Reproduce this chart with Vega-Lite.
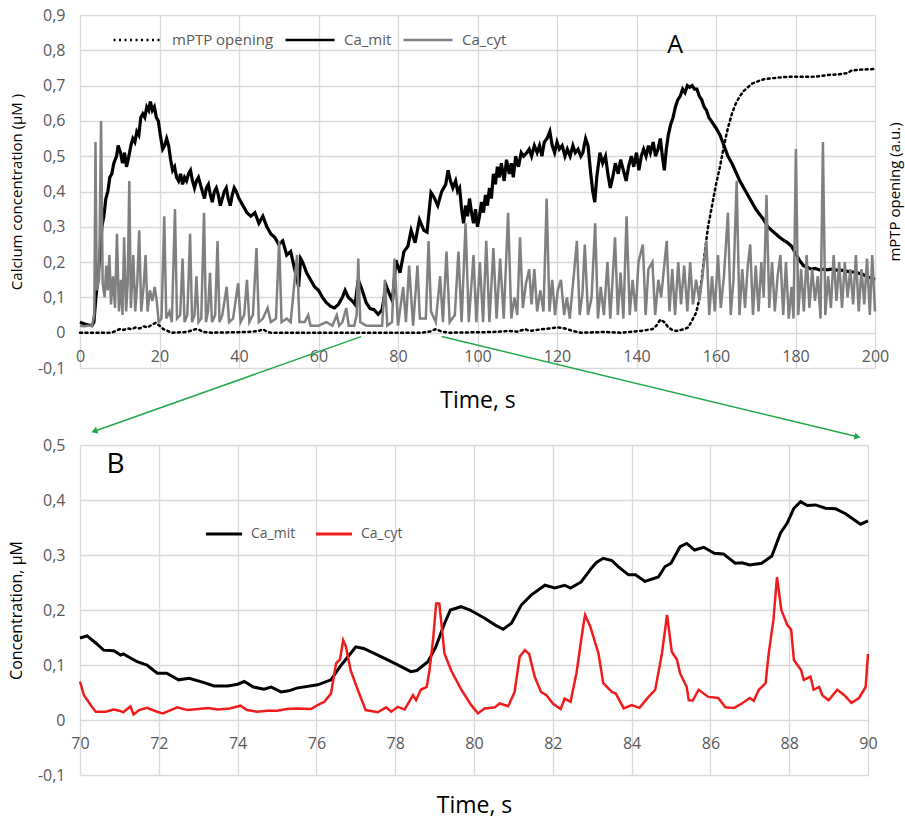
{
"$schema":"https://vega.github.io/schema/vega-lite/v6.json",
"padding":{"left":8,"top":7,"right":5,"bottom":5},
"spacing":77,
"bounds":"flush",
"datasets":{
"mptp":[{"t":0,"v":0,"s":"mPTP opening"},{"t":8,"v":0,"s":"mPTP opening"},{"t":9,"v":0.005,"s":"mPTP opening"},{"t":10,"v":0.01,"s":"mPTP opening"},{"t":11,"v":0.008,"s":"mPTP opening"},{"t":12,"v":0.012,"s":"mPTP opening"},{"t":13,"v":0.01,"s":"mPTP opening"},{"t":14,"v":0.015,"s":"mPTP opening"},{"t":15,"v":0.012,"s":"mPTP opening"},{"t":16,"v":0.018,"s":"mPTP opening"},{"t":17,"v":0.015,"s":"mPTP opening"},{"t":18,"v":0.022,"s":"mPTP opening"},{"t":19,"v":0.028,"s":"mPTP opening"},{"t":20,"v":0.02,"s":"mPTP opening"},{"t":21,"v":0.01,"s":"mPTP opening"},{"t":22,"v":0.005,"s":"mPTP opening"},{"t":23,"v":0,"s":"mPTP opening"},{"t":27,"v":0.002,"s":"mPTP opening"},{"t":29,"v":0.01,"s":"mPTP opening"},{"t":30,"v":0.008,"s":"mPTP opening"},{"t":31,"v":0.002,"s":"mPTP opening"},{"t":33,"v":0,"s":"mPTP opening"},{"t":42,"v":0.002,"s":"mPTP opening"},{"t":45,"v":0.005,"s":"mPTP opening"},{"t":46,"v":0.01,"s":"mPTP opening"},{"t":47,"v":0.003,"s":"mPTP opening"},{"t":48,"v":0,"s":"mPTP opening"},{"t":86,"v":0,"s":"mPTP opening"},{"t":88,"v":0.003,"s":"mPTP opening"},{"t":89.5,"v":0.01,"s":"mPTP opening"},{"t":91,"v":0.003,"s":"mPTP opening"},{"t":93,"v":0,"s":"mPTP opening"},{"t":104,"v":0.002,"s":"mPTP opening"},{"t":108,"v":0.005,"s":"mPTP opening"},{"t":110,"v":0.003,"s":"mPTP opening"},{"t":112,"v":0.01,"s":"mPTP opening"},{"t":113,"v":0.005,"s":"mPTP opening"},{"t":115,"v":0.008,"s":"mPTP opening"},{"t":118,"v":0.012,"s":"mPTP opening"},{"t":120,"v":0.015,"s":"mPTP opening"},{"t":122,"v":0.012,"s":"mPTP opening"},{"t":124,"v":0.005,"s":"mPTP opening"},{"t":126,"v":0,"s":"mPTP opening"},{"t":132,"v":0.002,"s":"mPTP opening"},{"t":136,"v":0,"s":"mPTP opening"},{"t":141,"v":0.005,"s":"mPTP opening"},{"t":144,"v":0.01,"s":"mPTP opening"},{"t":145,"v":0.02,"s":"mPTP opening"},{"t":146,"v":0.037,"s":"mPTP opening"},{"t":147,"v":0.03,"s":"mPTP opening"},{"t":148,"v":0.015,"s":"mPTP opening"},{"t":149,"v":0.008,"s":"mPTP opening"},{"t":150,"v":0.005,"s":"mPTP opening"},{"t":152,"v":0.01,"s":"mPTP opening"},{"t":153,"v":0.015,"s":"mPTP opening"},{"t":154,"v":0.035,"s":"mPTP opening"},{"t":155,"v":0.057,"s":"mPTP opening"},{"t":155.7,"v":0.09,"s":"mPTP opening"},{"t":156.5,"v":0.16,"s":"mPTP opening"},{"t":157.2,"v":0.23,"s":"mPTP opening"},{"t":158,"v":0.3,"s":"mPTP opening"},{"t":159,"v":0.36,"s":"mPTP opening"},{"t":160,"v":0.42,"s":"mPTP opening"},{"t":161,"v":0.47,"s":"mPTP opening"},{"t":162,"v":0.53,"s":"mPTP opening"},{"t":163,"v":0.58,"s":"mPTP opening"},{"t":164,"v":0.62,"s":"mPTP opening"},{"t":165,"v":0.65,"s":"mPTP opening"},{"t":166,"v":0.67,"s":"mPTP opening"},{"t":167,"v":0.685,"s":"mPTP opening"},{"t":168,"v":0.695,"s":"mPTP opening"},{"t":169,"v":0.705,"s":"mPTP opening"},{"t":170,"v":0.71,"s":"mPTP opening"},{"t":172,"v":0.718,"s":"mPTP opening"},{"t":175,"v":0.722,"s":"mPTP opening"},{"t":178,"v":0.725,"s":"mPTP opening"},{"t":182,"v":0.725,"s":"mPTP opening"},{"t":185,"v":0.725,"s":"mPTP opening"},{"t":188,"v":0.73,"s":"mPTP opening"},{"t":191,"v":0.732,"s":"mPTP opening"},{"t":193,"v":0.735,"s":"mPTP opening"},{"t":194,"v":0.742,"s":"mPTP opening"},{"t":196,"v":0.745,"s":"mPTP opening"},{"t":200,"v":0.747,"s":"mPTP opening"}],
"mit":[{"t":0,"v":0.03,"s":"Ca_mit"},{"t":1,"v":0.025,"s":"Ca_mit"},{"t":2,"v":0.022,"s":"Ca_mit"},{"t":3,"v":0.02,"s":"Ca_mit"},{"t":3.5,"v":0.03,"s":"Ca_mit"},{"t":4,"v":0.1,"s":"Ca_mit"},{"t":4.5,"v":0.15,"s":"Ca_mit"},{"t":5,"v":0.22,"s":"Ca_mit"},{"t":5.5,"v":0.3,"s":"Ca_mit"},{"t":6,"v":0.33,"s":"Ca_mit"},{"t":6.5,"v":0.38,"s":"Ca_mit"},{"t":7,"v":0.4,"s":"Ca_mit"},{"t":7.5,"v":0.44,"s":"Ca_mit"},{"t":8,"v":0.45,"s":"Ca_mit"},{"t":8.5,"v":0.48,"s":"Ca_mit"},{"t":9.2,"v":0.5,"s":"Ca_mit"},{"t":9.6,"v":0.53,"s":"Ca_mit"},{"t":10.2,"v":0.51,"s":"Ca_mit"},{"t":10.7,"v":0.48,"s":"Ca_mit"},{"t":11.2,"v":0.51,"s":"Ca_mit"},{"t":11.7,"v":0.47,"s":"Ca_mit"},{"t":12.3,"v":0.5,"s":"Ca_mit"},{"t":12.8,"v":0.53,"s":"Ca_mit"},{"t":13.3,"v":0.55,"s":"Ca_mit"},{"t":13.8,"v":0.54,"s":"Ca_mit"},{"t":14.3,"v":0.57,"s":"Ca_mit"},{"t":14.8,"v":0.56,"s":"Ca_mit"},{"t":15.3,"v":0.61,"s":"Ca_mit"},{"t":15.8,"v":0.62,"s":"Ca_mit"},{"t":16.3,"v":0.61,"s":"Ca_mit"},{"t":16.8,"v":0.64,"s":"Ca_mit"},{"t":17.3,"v":0.63,"s":"Ca_mit"},{"t":17.7,"v":0.655,"s":"Ca_mit"},{"t":18.2,"v":0.63,"s":"Ca_mit"},{"t":18.7,"v":0.64,"s":"Ca_mit"},{"t":19.2,"v":0.61,"s":"Ca_mit"},{"t":19.7,"v":0.6,"s":"Ca_mit"},{"t":20.2,"v":0.56,"s":"Ca_mit"},{"t":20.8,"v":0.52,"s":"Ca_mit"},{"t":21.3,"v":0.53,"s":"Ca_mit"},{"t":21.8,"v":0.55,"s":"Ca_mit"},{"t":22.3,"v":0.53,"s":"Ca_mit"},{"t":22.8,"v":0.49,"s":"Ca_mit"},{"t":23.3,"v":0.46,"s":"Ca_mit"},{"t":23.8,"v":0.47,"s":"Ca_mit"},{"t":24.3,"v":0.44,"s":"Ca_mit"},{"t":24.8,"v":0.43,"s":"Ca_mit"},{"t":25.3,"v":0.45,"s":"Ca_mit"},{"t":25.8,"v":0.42,"s":"Ca_mit"},{"t":26.3,"v":0.44,"s":"Ca_mit"},{"t":26.8,"v":0.43,"s":"Ca_mit"},{"t":27.3,"v":0.45,"s":"Ca_mit"},{"t":27.8,"v":0.46,"s":"Ca_mit"},{"t":28.3,"v":0.43,"s":"Ca_mit"},{"t":28.8,"v":0.41,"s":"Ca_mit"},{"t":29.3,"v":0.43,"s":"Ca_mit"},{"t":29.8,"v":0.44,"s":"Ca_mit"},{"t":30.3,"v":0.42,"s":"Ca_mit"},{"t":30.8,"v":0.4,"s":"Ca_mit"},{"t":31.3,"v":0.38,"s":"Ca_mit"},{"t":31.8,"v":0.41,"s":"Ca_mit"},{"t":32.3,"v":0.42,"s":"Ca_mit"},{"t":32.8,"v":0.39,"s":"Ca_mit"},{"t":33.3,"v":0.37,"s":"Ca_mit"},{"t":33.8,"v":0.4,"s":"Ca_mit"},{"t":34.3,"v":0.41,"s":"Ca_mit"},{"t":34.8,"v":0.39,"s":"Ca_mit"},{"t":35.3,"v":0.36,"s":"Ca_mit"},{"t":35.8,"v":0.38,"s":"Ca_mit"},{"t":36.3,"v":0.4,"s":"Ca_mit"},{"t":36.8,"v":0.41,"s":"Ca_mit"},{"t":37.3,"v":0.38,"s":"Ca_mit"},{"t":37.8,"v":0.36,"s":"Ca_mit"},{"t":38.3,"v":0.39,"s":"Ca_mit"},{"t":38.8,"v":0.41,"s":"Ca_mit"},{"t":39.3,"v":0.4,"s":"Ca_mit"},{"t":40,"v":0.38,"s":"Ca_mit"},{"t":41,"v":0.36,"s":"Ca_mit"},{"t":42,"v":0.34,"s":"Ca_mit"},{"t":43,"v":0.33,"s":"Ca_mit"},{"t":44,"v":0.34,"s":"Ca_mit"},{"t":45,"v":0.31,"s":"Ca_mit"},{"t":46,"v":0.33,"s":"Ca_mit"},{"t":47,"v":0.3,"s":"Ca_mit"},{"t":48,"v":0.28,"s":"Ca_mit"},{"t":49,"v":0.27,"s":"Ca_mit"},{"t":50,"v":0.25,"s":"Ca_mit"},{"t":51,"v":0.26,"s":"Ca_mit"},{"t":52,"v":0.22,"s":"Ca_mit"},{"t":53,"v":0.23,"s":"Ca_mit"},{"t":54,"v":0.18,"s":"Ca_mit"},{"t":55,"v":0.13,"s":"Ca_mit"},{"t":55.5,"v":0.21,"s":"Ca_mit"},{"t":56,"v":0.2,"s":"Ca_mit"},{"t":57,"v":0.17,"s":"Ca_mit"},{"t":58,"v":0.15,"s":"Ca_mit"},{"t":59,"v":0.13,"s":"Ca_mit"},{"t":60,"v":0.12,"s":"Ca_mit"},{"t":61,"v":0.1,"s":"Ca_mit"},{"t":62,"v":0.085,"s":"Ca_mit"},{"t":63,"v":0.075,"s":"Ca_mit"},{"t":64,"v":0.07,"s":"Ca_mit"},{"t":65,"v":0.08,"s":"Ca_mit"},{"t":66,"v":0.1,"s":"Ca_mit"},{"t":66.7,"v":0.12,"s":"Ca_mit"},{"t":67.5,"v":0.1,"s":"Ca_mit"},{"t":68.5,"v":0.09,"s":"Ca_mit"},{"t":69.2,"v":0.08,"s":"Ca_mit"},{"t":70,"v":0.15,"s":"Ca_mit"},{"t":71,"v":0.12,"s":"Ca_mit"},{"t":72,"v":0.085,"s":"Ca_mit"},{"t":73,"v":0.068,"s":"Ca_mit"},{"t":74,"v":0.065,"s":"Ca_mit"},{"t":75,"v":0.052,"s":"Ca_mit"},{"t":76,"v":0.065,"s":"Ca_mit"},{"t":77,"v":0.134,"s":"Ca_mit"},{"t":78,"v":0.105,"s":"Ca_mit"},{"t":78.6,"v":0.09,"s":"Ca_mit"},{"t":79.5,"v":0.205,"s":"Ca_mit"},{"t":80.5,"v":0.17,"s":"Ca_mit"},{"t":81.5,"v":0.23,"s":"Ca_mit"},{"t":82.5,"v":0.245,"s":"Ca_mit"},{"t":83.3,"v":0.29,"s":"Ca_mit"},{"t":84.3,"v":0.255,"s":"Ca_mit"},{"t":85.4,"v":0.32,"s":"Ca_mit"},{"t":86.5,"v":0.29,"s":"Ca_mit"},{"t":87.3,"v":0.285,"s":"Ca_mit"},{"t":88.3,"v":0.397,"s":"Ca_mit"},{"t":89,"v":0.385,"s":"Ca_mit"},{"t":90,"v":0.36,"s":"Ca_mit"},{"t":91,"v":0.4,"s":"Ca_mit"},{"t":92,"v":0.42,"s":"Ca_mit"},{"t":92.6,"v":0.46,"s":"Ca_mit"},{"t":93.2,"v":0.43,"s":"Ca_mit"},{"t":93.8,"v":0.41,"s":"Ca_mit"},{"t":94.5,"v":0.43,"s":"Ca_mit"},{"t":95,"v":0.4,"s":"Ca_mit"},{"t":95.5,"v":0.41,"s":"Ca_mit"},{"t":96,"v":0.35,"s":"Ca_mit"},{"t":96.5,"v":0.31,"s":"Ca_mit"},{"t":97,"v":0.36,"s":"Ca_mit"},{"t":97.5,"v":0.33,"s":"Ca_mit"},{"t":98,"v":0.38,"s":"Ca_mit"},{"t":98.5,"v":0.34,"s":"Ca_mit"},{"t":99,"v":0.31,"s":"Ca_mit"},{"t":99.5,"v":0.35,"s":"Ca_mit"},{"t":100,"v":0.3,"s":"Ca_mit"},{"t":100.5,"v":0.33,"s":"Ca_mit"},{"t":101,"v":0.37,"s":"Ca_mit"},{"t":101.5,"v":0.34,"s":"Ca_mit"},{"t":102,"v":0.39,"s":"Ca_mit"},{"t":102.5,"v":0.36,"s":"Ca_mit"},{"t":103,"v":0.41,"s":"Ca_mit"},{"t":103.5,"v":0.38,"s":"Ca_mit"},{"t":104,"v":0.45,"s":"Ca_mit"},{"t":104.5,"v":0.42,"s":"Ca_mit"},{"t":105,"v":0.47,"s":"Ca_mit"},{"t":105.5,"v":0.44,"s":"Ca_mit"},{"t":106,"v":0.48,"s":"Ca_mit"},{"t":106.7,"v":0.43,"s":"Ca_mit"},{"t":107.3,"v":0.49,"s":"Ca_mit"},{"t":108,"v":0.45,"s":"Ca_mit"},{"t":108.5,"v":0.48,"s":"Ca_mit"},{"t":109,"v":0.44,"s":"Ca_mit"},{"t":109.6,"v":0.5,"s":"Ca_mit"},{"t":110.3,"v":0.47,"s":"Ca_mit"},{"t":111,"v":0.51,"s":"Ca_mit"},{"t":111.6,"v":0.5,"s":"Ca_mit"},{"t":112.4,"v":0.51,"s":"Ca_mit"},{"t":113,"v":0.52,"s":"Ca_mit"},{"t":113.6,"v":0.5,"s":"Ca_mit"},{"t":114.3,"v":0.53,"s":"Ca_mit"},{"t":115,"v":0.51,"s":"Ca_mit"},{"t":115.6,"v":0.53,"s":"Ca_mit"},{"t":116.2,"v":0.5,"s":"Ca_mit"},{"t":116.8,"v":0.54,"s":"Ca_mit"},{"t":117.5,"v":0.55,"s":"Ca_mit"},{"t":118.2,"v":0.57,"s":"Ca_mit"},{"t":118.8,"v":0.53,"s":"Ca_mit"},{"t":119.4,"v":0.51,"s":"Ca_mit"},{"t":120,"v":0.54,"s":"Ca_mit"},{"t":120.6,"v":0.52,"s":"Ca_mit"},{"t":121.3,"v":0.53,"s":"Ca_mit"},{"t":122,"v":0.5,"s":"Ca_mit"},{"t":122.6,"v":0.52,"s":"Ca_mit"},{"t":123.3,"v":0.5,"s":"Ca_mit"},{"t":124,"v":0.53,"s":"Ca_mit"},{"t":124.6,"v":0.51,"s":"Ca_mit"},{"t":125.3,"v":0.52,"s":"Ca_mit"},{"t":126,"v":0.5,"s":"Ca_mit"},{"t":126.5,"v":0.51,"s":"Ca_mit"},{"t":127.2,"v":0.55,"s":"Ca_mit"},{"t":127.8,"v":0.53,"s":"Ca_mit"},{"t":128.4,"v":0.46,"s":"Ca_mit"},{"t":129,"v":0.4,"s":"Ca_mit"},{"t":129.5,"v":0.37,"s":"Ca_mit"},{"t":130,"v":0.44,"s":"Ca_mit"},{"t":130.8,"v":0.51,"s":"Ca_mit"},{"t":131.5,"v":0.48,"s":"Ca_mit"},{"t":132.2,"v":0.5,"s":"Ca_mit"},{"t":132.8,"v":0.45,"s":"Ca_mit"},{"t":133.4,"v":0.41,"s":"Ca_mit"},{"t":134,"v":0.44,"s":"Ca_mit"},{"t":134.7,"v":0.48,"s":"Ca_mit"},{"t":135.4,"v":0.45,"s":"Ca_mit"},{"t":136,"v":0.49,"s":"Ca_mit"},{"t":136.7,"v":0.46,"s":"Ca_mit"},{"t":137.4,"v":0.43,"s":"Ca_mit"},{"t":138,"v":0.47,"s":"Ca_mit"},{"t":138.7,"v":0.5,"s":"Ca_mit"},{"t":139.3,"v":0.47,"s":"Ca_mit"},{"t":140,"v":0.51,"s":"Ca_mit"},{"t":140.6,"v":0.46,"s":"Ca_mit"},{"t":141.2,"v":0.5,"s":"Ca_mit"},{"t":141.8,"v":0.52,"s":"Ca_mit"},{"t":142.4,"v":0.5,"s":"Ca_mit"},{"t":143,"v":0.53,"s":"Ca_mit"},{"t":143.5,"v":0.51,"s":"Ca_mit"},{"t":144.2,"v":0.54,"s":"Ca_mit"},{"t":144.8,"v":0.5,"s":"Ca_mit"},{"t":145.4,"v":0.52,"s":"Ca_mit"},{"t":146,"v":0.55,"s":"Ca_mit"},{"t":146.5,"v":0.5,"s":"Ca_mit"},{"t":147,"v":0.46,"s":"Ca_mit"},{"t":147.5,"v":0.52,"s":"Ca_mit"},{"t":148,"v":0.56,"s":"Ca_mit"},{"t":148.6,"v":0.59,"s":"Ca_mit"},{"t":149.2,"v":0.61,"s":"Ca_mit"},{"t":149.8,"v":0.64,"s":"Ca_mit"},{"t":150.4,"v":0.66,"s":"Ca_mit"},{"t":151,"v":0.67,"s":"Ca_mit"},{"t":151.6,"v":0.69,"s":"Ca_mit"},{"t":152.2,"v":0.68,"s":"Ca_mit"},{"t":152.8,"v":0.7,"s":"Ca_mit"},{"t":153.4,"v":0.695,"s":"Ca_mit"},{"t":154,"v":0.7,"s":"Ca_mit"},{"t":154.6,"v":0.69,"s":"Ca_mit"},{"t":155.2,"v":0.69,"s":"Ca_mit"},{"t":155.8,"v":0.67,"s":"Ca_mit"},{"t":156.4,"v":0.66,"s":"Ca_mit"},{"t":157,"v":0.64,"s":"Ca_mit"},{"t":157.6,"v":0.63,"s":"Ca_mit"},{"t":158.2,"v":0.61,"s":"Ca_mit"},{"t":158.8,"v":0.6,"s":"Ca_mit"},{"t":159.4,"v":0.59,"s":"Ca_mit"},{"t":160,"v":0.58,"s":"Ca_mit"},{"t":161,"v":0.56,"s":"Ca_mit"},{"t":162,"v":0.53,"s":"Ca_mit"},{"t":163,"v":0.5,"s":"Ca_mit"},{"t":164,"v":0.48,"s":"Ca_mit"},{"t":165,"v":0.455,"s":"Ca_mit"},{"t":166,"v":0.43,"s":"Ca_mit"},{"t":167,"v":0.41,"s":"Ca_mit"},{"t":168,"v":0.39,"s":"Ca_mit"},{"t":169,"v":0.37,"s":"Ca_mit"},{"t":170,"v":0.35,"s":"Ca_mit"},{"t":171,"v":0.335,"s":"Ca_mit"},{"t":172,"v":0.32,"s":"Ca_mit"},{"t":173,"v":0.3,"s":"Ca_mit"},{"t":174,"v":0.29,"s":"Ca_mit"},{"t":175,"v":0.28,"s":"Ca_mit"},{"t":176,"v":0.27,"s":"Ca_mit"},{"t":177,"v":0.262,"s":"Ca_mit"},{"t":178,"v":0.255,"s":"Ca_mit"},{"t":179,"v":0.245,"s":"Ca_mit"},{"t":180,"v":0.225,"s":"Ca_mit"},{"t":181,"v":0.205,"s":"Ca_mit"},{"t":182,"v":0.19,"s":"Ca_mit"},{"t":183,"v":0.185,"s":"Ca_mit"},{"t":184,"v":0.18,"s":"Ca_mit"},{"t":185,"v":0.182,"s":"Ca_mit"},{"t":186,"v":0.178,"s":"Ca_mit"},{"t":187,"v":0.18,"s":"Ca_mit"},{"t":188,"v":0.178,"s":"Ca_mit"},{"t":189,"v":0.18,"s":"Ca_mit"},{"t":190,"v":0.177,"s":"Ca_mit"},{"t":191,"v":0.178,"s":"Ca_mit"},{"t":192,"v":0.176,"s":"Ca_mit"},{"t":193,"v":0.174,"s":"Ca_mit"},{"t":194,"v":0.172,"s":"Ca_mit"},{"t":195,"v":0.172,"s":"Ca_mit"},{"t":196,"v":0.168,"s":"Ca_mit"},{"t":197,"v":0.165,"s":"Ca_mit"},{"t":198,"v":0.158,"s":"Ca_mit"},{"t":199,"v":0.155,"s":"Ca_mit"},{"t":200,"v":0.15,"s":"Ca_mit"}],
"cyt":[{"t":0,"v":0.02,"s":"Ca_cyt"},{"t":1,"v":0.018,"s":"Ca_cyt"},{"t":2,"v":0.02,"s":"Ca_cyt"},{"t":3,"v":0.02,"s":"Ca_cyt"},{"t":3.6,"v":0.05,"s":"Ca_cyt"},{"t":3.9,"v":0.54,"s":"Ca_cyt"},{"t":4.2,"v":0.12,"s":"Ca_cyt"},{"t":4.8,"v":0.15,"s":"Ca_cyt"},{"t":5.3,"v":0.6,"s":"Ca_cyt"},{"t":5.7,"v":0.14,"s":"Ca_cyt"},{"t":6.2,"v":0.1,"s":"Ca_cyt"},{"t":6.6,"v":0.19,"s":"Ca_cyt"},{"t":7,"v":0.12,"s":"Ca_cyt"},{"t":7.4,"v":0.22,"s":"Ca_cyt"},{"t":7.8,"v":0.08,"s":"Ca_cyt"},{"t":8.3,"v":0.16,"s":"Ca_cyt"},{"t":8.8,"v":0.07,"s":"Ca_cyt"},{"t":9.3,"v":0.28,"s":"Ca_cyt"},{"t":9.8,"v":0.06,"s":"Ca_cyt"},{"t":10.3,"v":0.15,"s":"Ca_cyt"},{"t":10.7,"v":0.05,"s":"Ca_cyt"},{"t":11.1,"v":0.27,"s":"Ca_cyt"},{"t":11.6,"v":0.06,"s":"Ca_cyt"},{"t":12,"v":0.14,"s":"Ca_cyt"},{"t":12.4,"v":0.43,"s":"Ca_cyt"},{"t":12.8,"v":0.07,"s":"Ca_cyt"},{"t":13.4,"v":0.22,"s":"Ca_cyt"},{"t":13.9,"v":0.06,"s":"Ca_cyt"},{"t":14.4,"v":0.14,"s":"Ca_cyt"},{"t":14.9,"v":0.29,"s":"Ca_cyt"},{"t":15.4,"v":0.06,"s":"Ca_cyt"},{"t":16,"v":0.13,"s":"Ca_cyt"},{"t":16.5,"v":0.22,"s":"Ca_cyt"},{"t":17,"v":0.06,"s":"Ca_cyt"},{"t":17.6,"v":0.12,"s":"Ca_cyt"},{"t":18.2,"v":0.09,"s":"Ca_cyt"},{"t":18.8,"v":0.13,"s":"Ca_cyt"},{"t":19.3,"v":0.09,"s":"Ca_cyt"},{"t":19.8,"v":0.03,"s":"Ca_cyt"},{"t":20.5,"v":0.04,"s":"Ca_cyt"},{"t":21.2,"v":0.33,"s":"Ca_cyt"},{"t":21.7,"v":0.04,"s":"Ca_cyt"},{"t":22.5,"v":0.06,"s":"Ca_cyt"},{"t":23.1,"v":0.03,"s":"Ca_cyt"},{"t":23.9,"v":0.35,"s":"Ca_cyt"},{"t":24.4,"v":0.04,"s":"Ca_cyt"},{"t":25.2,"v":0.05,"s":"Ca_cyt"},{"t":25.8,"v":0.21,"s":"Ca_cyt"},{"t":26.3,"v":0.03,"s":"Ca_cyt"},{"t":27,"v":0.05,"s":"Ca_cyt"},{"t":27.7,"v":0.28,"s":"Ca_cyt"},{"t":28.2,"v":0.03,"s":"Ca_cyt"},{"t":28.8,"v":0.05,"s":"Ca_cyt"},{"t":29.3,"v":0.16,"s":"Ca_cyt"},{"t":29.8,"v":0.03,"s":"Ca_cyt"},{"t":30.5,"v":0.04,"s":"Ca_cyt"},{"t":31.2,"v":0.34,"s":"Ca_cyt"},{"t":31.7,"v":0.03,"s":"Ca_cyt"},{"t":32.2,"v":0.06,"s":"Ca_cyt"},{"t":32.7,"v":0.17,"s":"Ca_cyt"},{"t":33.2,"v":0.03,"s":"Ca_cyt"},{"t":34,"v":0.05,"s":"Ca_cyt"},{"t":34.6,"v":0.26,"s":"Ca_cyt"},{"t":35.1,"v":0.03,"s":"Ca_cyt"},{"t":35.8,"v":0.05,"s":"Ca_cyt"},{"t":36.9,"v":0.13,"s":"Ca_cyt"},{"t":37.5,"v":0.03,"s":"Ca_cyt"},{"t":38.5,"v":0.04,"s":"Ca_cyt"},{"t":39.8,"v":0.14,"s":"Ca_cyt"},{"t":40.4,"v":0.03,"s":"Ca_cyt"},{"t":41.3,"v":0.05,"s":"Ca_cyt"},{"t":42,"v":0.15,"s":"Ca_cyt"},{"t":42.6,"v":0.03,"s":"Ca_cyt"},{"t":43.5,"v":0.05,"s":"Ca_cyt"},{"t":44.4,"v":0.24,"s":"Ca_cyt"},{"t":45,"v":0.03,"s":"Ca_cyt"},{"t":46,"v":0.04,"s":"Ca_cyt"},{"t":47.2,"v":0.07,"s":"Ca_cyt"},{"t":48,"v":0.03,"s":"Ca_cyt"},{"t":49.3,"v":0.04,"s":"Ca_cyt"},{"t":50.1,"v":0.26,"s":"Ca_cyt"},{"t":50.7,"v":0.03,"s":"Ca_cyt"},{"t":52,"v":0.04,"s":"Ca_cyt"},{"t":53,"v":0.03,"s":"Ca_cyt"},{"t":54.6,"v":0.22,"s":"Ca_cyt"},{"t":55.2,"v":0.03,"s":"Ca_cyt"},{"t":56.5,"v":0.03,"s":"Ca_cyt"},{"t":57.4,"v":0.05,"s":"Ca_cyt"},{"t":58,"v":0.02,"s":"Ca_cyt"},{"t":60,"v":0.02,"s":"Ca_cyt"},{"t":62,"v":0.03,"s":"Ca_cyt"},{"t":63.5,"v":0.02,"s":"Ca_cyt"},{"t":64.6,"v":0.05,"s":"Ca_cyt"},{"t":65.2,"v":0.02,"s":"Ca_cyt"},{"t":66,"v":0.03,"s":"Ca_cyt"},{"t":67,"v":0.07,"s":"Ca_cyt"},{"t":67.6,"v":0.02,"s":"Ca_cyt"},{"t":69,"v":0.02,"s":"Ca_cyt"},{"t":69.6,"v":0.05,"s":"Ca_cyt"},{"t":70,"v":0.21,"s":"Ca_cyt"},{"t":70.5,"v":0.03,"s":"Ca_cyt"},{"t":72,"v":0.02,"s":"Ca_cyt"},{"t":74,"v":0.02,"s":"Ca_cyt"},{"t":76,"v":0.02,"s":"Ca_cyt"},{"t":76.7,"v":0.15,"s":"Ca_cyt"},{"t":77.3,"v":0.02,"s":"Ca_cyt"},{"t":78.5,"v":0.03,"s":"Ca_cyt"},{"t":79.1,"v":0.21,"s":"Ca_cyt"},{"t":80,"v":0.02,"s":"Ca_cyt"},{"t":81.3,"v":0.13,"s":"Ca_cyt"},{"t":82,"v":0.03,"s":"Ca_cyt"},{"t":82.8,"v":0.19,"s":"Ca_cyt"},{"t":83.8,"v":0.02,"s":"Ca_cyt"},{"t":84.9,"v":0.19,"s":"Ca_cyt"},{"t":85.5,"v":0.04,"s":"Ca_cyt"},{"t":87,"v":0.04,"s":"Ca_cyt"},{"t":87.7,"v":0.26,"s":"Ca_cyt"},{"t":88.3,"v":0.06,"s":"Ca_cyt"},{"t":89.5,"v":0.03,"s":"Ca_cyt"},{"t":90.6,"v":0.16,"s":"Ca_cyt"},{"t":91.3,"v":0.03,"s":"Ca_cyt"},{"t":92.2,"v":0.23,"s":"Ca_cyt"},{"t":93,"v":0.03,"s":"Ca_cyt"},{"t":94.3,"v":0.05,"s":"Ca_cyt"},{"t":95.2,"v":0.23,"s":"Ca_cyt"},{"t":96,"v":0.03,"s":"Ca_cyt"},{"t":97,"v":0.31,"s":"Ca_cyt"},{"t":97.8,"v":0.03,"s":"Ca_cyt"},{"t":99,"v":0.22,"s":"Ca_cyt"},{"t":99.7,"v":0.03,"s":"Ca_cyt"},{"t":100.6,"v":0.2,"s":"Ca_cyt"},{"t":101.4,"v":0.03,"s":"Ca_cyt"},{"t":102.2,"v":0.26,"s":"Ca_cyt"},{"t":103,"v":0.03,"s":"Ca_cyt"},{"t":104,"v":0.24,"s":"Ca_cyt"},{"t":104.8,"v":0.04,"s":"Ca_cyt"},{"t":105.7,"v":0.21,"s":"Ca_cyt"},{"t":106.6,"v":0.04,"s":"Ca_cyt"},{"t":107.7,"v":0.34,"s":"Ca_cyt"},{"t":108.5,"v":0.04,"s":"Ca_cyt"},{"t":109.3,"v":0.1,"s":"Ca_cyt"},{"t":110,"v":0.05,"s":"Ca_cyt"},{"t":110.7,"v":0.27,"s":"Ca_cyt"},{"t":111.4,"v":0.07,"s":"Ca_cyt"},{"t":112.2,"v":0.14,"s":"Ca_cyt"},{"t":113,"v":0.18,"s":"Ca_cyt"},{"t":113.6,"v":0.08,"s":"Ca_cyt"},{"t":114.3,"v":0.18,"s":"Ca_cyt"},{"t":115,"v":0.06,"s":"Ca_cyt"},{"t":115.8,"v":0.12,"s":"Ca_cyt"},{"t":116.6,"v":0.06,"s":"Ca_cyt"},{"t":117.4,"v":0.38,"s":"Ca_cyt"},{"t":118.1,"v":0.06,"s":"Ca_cyt"},{"t":118.8,"v":0.15,"s":"Ca_cyt"},{"t":119.5,"v":0.05,"s":"Ca_cyt"},{"t":120.2,"v":0.12,"s":"Ca_cyt"},{"t":121,"v":0.15,"s":"Ca_cyt"},{"t":121.8,"v":0.05,"s":"Ca_cyt"},{"t":122.5,"v":0.1,"s":"Ca_cyt"},{"t":123.2,"v":0.04,"s":"Ca_cyt"},{"t":124.2,"v":0.16,"s":"Ca_cyt"},{"t":125,"v":0.26,"s":"Ca_cyt"},{"t":125.7,"v":0.05,"s":"Ca_cyt"},{"t":126.4,"v":0.11,"s":"Ca_cyt"},{"t":127,"v":0.25,"s":"Ca_cyt"},{"t":127.8,"v":0.05,"s":"Ca_cyt"},{"t":128.7,"v":0.1,"s":"Ca_cyt"},{"t":129.6,"v":0.31,"s":"Ca_cyt"},{"t":130.3,"v":0.04,"s":"Ca_cyt"},{"t":131,"v":0.13,"s":"Ca_cyt"},{"t":131.8,"v":0.05,"s":"Ca_cyt"},{"t":132.7,"v":0.2,"s":"Ca_cyt"},{"t":133.4,"v":0.04,"s":"Ca_cyt"},{"t":134.6,"v":0.27,"s":"Ca_cyt"},{"t":135.3,"v":0.05,"s":"Ca_cyt"},{"t":136,"v":0.17,"s":"Ca_cyt"},{"t":136.7,"v":0.04,"s":"Ca_cyt"},{"t":137.5,"v":0.33,"s":"Ca_cyt"},{"t":138.3,"v":0.05,"s":"Ca_cyt"},{"t":139,"v":0.15,"s":"Ca_cyt"},{"t":139.8,"v":0.06,"s":"Ca_cyt"},{"t":140.5,"v":0.2,"s":"Ca_cyt"},{"t":141.6,"v":0.25,"s":"Ca_cyt"},{"t":142.3,"v":0.05,"s":"Ca_cyt"},{"t":143,"v":0.18,"s":"Ca_cyt"},{"t":144,"v":0.2,"s":"Ca_cyt"},{"t":144.7,"v":0.05,"s":"Ca_cyt"},{"t":145.5,"v":0.15,"s":"Ca_cyt"},{"t":146.2,"v":0.1,"s":"Ca_cyt"},{"t":146.8,"v":0.17,"s":"Ca_cyt"},{"t":147.6,"v":0.26,"s":"Ca_cyt"},{"t":148.3,"v":0.06,"s":"Ca_cyt"},{"t":149,"v":0.18,"s":"Ca_cyt"},{"t":149.7,"v":0.05,"s":"Ca_cyt"},{"t":150.5,"v":0.2,"s":"Ca_cyt"},{"t":151.2,"v":0.08,"s":"Ca_cyt"},{"t":152,"v":0.19,"s":"Ca_cyt"},{"t":152.8,"v":0.06,"s":"Ca_cyt"},{"t":153.5,"v":0.2,"s":"Ca_cyt"},{"t":154.2,"v":0.08,"s":"Ca_cyt"},{"t":155,"v":0.15,"s":"Ca_cyt"},{"t":155.8,"v":0.09,"s":"Ca_cyt"},{"t":156.5,"v":0.15,"s":"Ca_cyt"},{"t":157.6,"v":0.26,"s":"Ca_cyt"},{"t":158.3,"v":0.05,"s":"Ca_cyt"},{"t":159,"v":0.16,"s":"Ca_cyt"},{"t":159.7,"v":0.06,"s":"Ca_cyt"},{"t":160.5,"v":0.22,"s":"Ca_cyt"},{"t":161.2,"v":0.07,"s":"Ca_cyt"},{"t":162,"v":0.16,"s":"Ca_cyt"},{"t":163,"v":0.34,"s":"Ca_cyt"},{"t":163.7,"v":0.05,"s":"Ca_cyt"},{"t":164.4,"v":0.15,"s":"Ca_cyt"},{"t":165.2,"v":0.43,"s":"Ca_cyt"},{"t":165.9,"v":0.05,"s":"Ca_cyt"},{"t":166.6,"v":0.18,"s":"Ca_cyt"},{"t":167.3,"v":0.07,"s":"Ca_cyt"},{"t":168,"v":0.19,"s":"Ca_cyt"},{"t":168.6,"v":0.25,"s":"Ca_cyt"},{"t":169.3,"v":0.05,"s":"Ca_cyt"},{"t":170,"v":0.19,"s":"Ca_cyt"},{"t":170.7,"v":0.06,"s":"Ca_cyt"},{"t":171.4,"v":0.2,"s":"Ca_cyt"},{"t":172,"v":0.1,"s":"Ca_cyt"},{"t":172.7,"v":0.39,"s":"Ca_cyt"},{"t":173.4,"v":0.07,"s":"Ca_cyt"},{"t":174.1,"v":0.2,"s":"Ca_cyt"},{"t":174.8,"v":0.06,"s":"Ca_cyt"},{"t":175.5,"v":0.16,"s":"Ca_cyt"},{"t":176.2,"v":0.22,"s":"Ca_cyt"},{"t":176.9,"v":0.05,"s":"Ca_cyt"},{"t":177.6,"v":0.2,"s":"Ca_cyt"},{"t":178.3,"v":0.04,"s":"Ca_cyt"},{"t":179,"v":0.13,"s":"Ca_cyt"},{"t":179.5,"v":0.04,"s":"Ca_cyt"},{"t":180.1,"v":0.52,"s":"Ca_cyt"},{"t":180.7,"v":0.05,"s":"Ca_cyt"},{"t":181.4,"v":0.18,"s":"Ca_cyt"},{"t":182.1,"v":0.06,"s":"Ca_cyt"},{"t":182.8,"v":0.22,"s":"Ca_cyt"},{"t":183.5,"v":0.07,"s":"Ca_cyt"},{"t":184.2,"v":0.18,"s":"Ca_cyt"},{"t":184.9,"v":0.09,"s":"Ca_cyt"},{"t":185.6,"v":0.16,"s":"Ca_cyt"},{"t":186.3,"v":0.04,"s":"Ca_cyt"},{"t":186.9,"v":0.54,"s":"Ca_cyt"},{"t":187.5,"v":0.05,"s":"Ca_cyt"},{"t":188.2,"v":0.16,"s":"Ca_cyt"},{"t":188.9,"v":0.07,"s":"Ca_cyt"},{"t":189.6,"v":0.22,"s":"Ca_cyt"},{"t":190.3,"v":0.09,"s":"Ca_cyt"},{"t":191,"v":0.2,"s":"Ca_cyt"},{"t":191.7,"v":0.07,"s":"Ca_cyt"},{"t":192.4,"v":0.2,"s":"Ca_cyt"},{"t":193.1,"v":0.1,"s":"Ca_cyt"},{"t":193.8,"v":0.18,"s":"Ca_cyt"},{"t":194.5,"v":0.08,"s":"Ca_cyt"},{"t":195.2,"v":0.22,"s":"Ca_cyt"},{"t":195.9,"v":0.06,"s":"Ca_cyt"},{"t":196.6,"v":0.18,"s":"Ca_cyt"},{"t":197.3,"v":0.08,"s":"Ca_cyt"},{"t":198,"v":0.21,"s":"Ca_cyt"},{"t":198.7,"v":0.05,"s":"Ca_cyt"},{"t":199.3,"v":0.22,"s":"Ca_cyt"},{"t":200,"v":0.06,"s":"Ca_cyt"}],
"bmit":[{"t":70,"v":0.149,"s":"Ca_mit"},{"t":70.18,"v":0.153,"s":"Ca_mit"},{"t":70.4,"v":0.14,"s":"Ca_mit"},{"t":70.6,"v":0.127,"s":"Ca_mit"},{"t":70.86,"v":0.126,"s":"Ca_mit"},{"t":71.03,"v":0.118,"s":"Ca_mit"},{"t":71.1,"v":0.12,"s":"Ca_mit"},{"t":71.45,"v":0.106,"s":"Ca_mit"},{"t":71.7,"v":0.1,"s":"Ca_mit"},{"t":71.96,"v":0.085,"s":"Ca_mit"},{"t":72.2,"v":0.085,"s":"Ca_mit"},{"t":72.5,"v":0.073,"s":"Ca_mit"},{"t":72.77,"v":0.076,"s":"Ca_mit"},{"t":73.15,"v":0.068,"s":"Ca_mit"},{"t":73.4,"v":0.062,"s":"Ca_mit"},{"t":73.75,"v":0.062,"s":"Ca_mit"},{"t":74,"v":0.065,"s":"Ca_mit"},{"t":74.17,"v":0.07,"s":"Ca_mit"},{"t":74.4,"v":0.06,"s":"Ca_mit"},{"t":74.67,"v":0.056,"s":"Ca_mit"},{"t":74.85,"v":0.06,"s":"Ca_mit"},{"t":75.1,"v":0.051,"s":"Ca_mit"},{"t":75.3,"v":0.053,"s":"Ca_mit"},{"t":75.5,"v":0.058,"s":"Ca_mit"},{"t":76.03,"v":0.064,"s":"Ca_mit"},{"t":76.37,"v":0.073,"s":"Ca_mit"},{"t":76.6,"v":0.097,"s":"Ca_mit"},{"t":76.8,"v":0.115,"s":"Ca_mit"},{"t":77,"v":0.133,"s":"Ca_mit"},{"t":77.2,"v":0.13,"s":"Ca_mit"},{"t":77.56,"v":0.118,"s":"Ca_mit"},{"t":77.9,"v":0.106,"s":"Ca_mit"},{"t":78.15,"v":0.097,"s":"Ca_mit"},{"t":78.4,"v":0.088,"s":"Ca_mit"},{"t":78.55,"v":0.09,"s":"Ca_mit"},{"t":78.83,"v":0.106,"s":"Ca_mit"},{"t":79.03,"v":0.133,"s":"Ca_mit"},{"t":79.25,"v":0.175,"s":"Ca_mit"},{"t":79.4,"v":0.2,"s":"Ca_mit"},{"t":79.67,"v":0.206,"s":"Ca_mit"},{"t":79.9,"v":0.2,"s":"Ca_mit"},{"t":80.27,"v":0.185,"s":"Ca_mit"},{"t":80.53,"v":0.173,"s":"Ca_mit"},{"t":80.74,"v":0.165,"s":"Ca_mit"},{"t":80.95,"v":0.176,"s":"Ca_mit"},{"t":81.2,"v":0.209,"s":"Ca_mit"},{"t":81.45,"v":0.227,"s":"Ca_mit"},{"t":81.8,"v":0.245,"s":"Ca_mit"},{"t":82.05,"v":0.24,"s":"Ca_mit"},{"t":82.3,"v":0.245,"s":"Ca_mit"},{"t":82.45,"v":0.24,"s":"Ca_mit"},{"t":82.72,"v":0.251,"s":"Ca_mit"},{"t":82.98,"v":0.276,"s":"Ca_mit"},{"t":83.1,"v":0.286,"s":"Ca_mit"},{"t":83.28,"v":0.294,"s":"Ca_mit"},{"t":83.5,"v":0.29,"s":"Ca_mit"},{"t":83.66,"v":0.279,"s":"Ca_mit"},{"t":83.92,"v":0.264,"s":"Ca_mit"},{"t":84.1,"v":0.264,"s":"Ca_mit"},{"t":84.34,"v":0.252,"s":"Ca_mit"},{"t":84.68,"v":0.26,"s":"Ca_mit"},{"t":84.85,"v":0.279,"s":"Ca_mit"},{"t":85,"v":0.285,"s":"Ca_mit"},{"t":85.23,"v":0.315,"s":"Ca_mit"},{"t":85.4,"v":0.321,"s":"Ca_mit"},{"t":85.6,"v":0.309,"s":"Ca_mit"},{"t":85.83,"v":0.314,"s":"Ca_mit"},{"t":86.1,"v":0.303,"s":"Ca_mit"},{"t":86.33,"v":0.302,"s":"Ca_mit"},{"t":86.63,"v":0.285,"s":"Ca_mit"},{"t":86.8,"v":0.286,"s":"Ca_mit"},{"t":87,"v":0.282,"s":"Ca_mit"},{"t":87.3,"v":0.285,"s":"Ca_mit"},{"t":87.56,"v":0.298,"s":"Ca_mit"},{"t":87.78,"v":0.34,"s":"Ca_mit"},{"t":87.95,"v":0.358,"s":"Ca_mit"},{"t":88.12,"v":0.385,"s":"Ca_mit"},{"t":88.29,"v":0.397,"s":"Ca_mit"},{"t":88.46,"v":0.39,"s":"Ca_mit"},{"t":88.67,"v":0.391,"s":"Ca_mit"},{"t":88.92,"v":0.385,"s":"Ca_mit"},{"t":89.18,"v":0.384,"s":"Ca_mit"},{"t":89.43,"v":0.375,"s":"Ca_mit"},{"t":89.81,"v":0.356,"s":"Ca_mit"},{"t":90,"v":0.362,"s":"Ca_mit"}],
"bcyt":[{"t":70,"v":0.07,"s":"Ca_cyt"},{"t":70.1,"v":0.045,"s":"Ca_cyt"},{"t":70.3,"v":0.024,"s":"Ca_cyt"},{"t":70.4,"v":0.015,"s":"Ca_cyt"},{"t":70.65,"v":0.015,"s":"Ca_cyt"},{"t":70.85,"v":0.019,"s":"Ca_cyt"},{"t":71,"v":0.017,"s":"Ca_cyt"},{"t":71.1,"v":0.014,"s":"Ca_cyt"},{"t":71.28,"v":0.025,"s":"Ca_cyt"},{"t":71.36,"v":0.01,"s":"Ca_cyt"},{"t":71.5,"v":0.018,"s":"Ca_cyt"},{"t":71.7,"v":0.022,"s":"Ca_cyt"},{"t":71.96,"v":0.015,"s":"Ca_cyt"},{"t":72.1,"v":0.012,"s":"Ca_cyt"},{"t":72.3,"v":0.018,"s":"Ca_cyt"},{"t":72.47,"v":0.023,"s":"Ca_cyt"},{"t":72.73,"v":0.018,"s":"Ca_cyt"},{"t":73,"v":0.02,"s":"Ca_cyt"},{"t":73.25,"v":0.022,"s":"Ca_cyt"},{"t":73.5,"v":0.019,"s":"Ca_cyt"},{"t":73.8,"v":0.021,"s":"Ca_cyt"},{"t":74.07,"v":0.026,"s":"Ca_cyt"},{"t":74.24,"v":0.018,"s":"Ca_cyt"},{"t":74.5,"v":0.015,"s":"Ca_cyt"},{"t":74.75,"v":0.017,"s":"Ca_cyt"},{"t":75,"v":0.017,"s":"Ca_cyt"},{"t":75.25,"v":0.02,"s":"Ca_cyt"},{"t":75.5,"v":0.021,"s":"Ca_cyt"},{"t":75.86,"v":0.02,"s":"Ca_cyt"},{"t":76.03,"v":0.027,"s":"Ca_cyt"},{"t":76.2,"v":0.033,"s":"Ca_cyt"},{"t":76.37,"v":0.048,"s":"Ca_cyt"},{"t":76.5,"v":0.103,"s":"Ca_cyt"},{"t":76.6,"v":0.11,"s":"Ca_cyt"},{"t":76.68,"v":0.145,"s":"Ca_cyt"},{"t":76.75,"v":0.133,"s":"Ca_cyt"},{"t":76.87,"v":0.09,"s":"Ca_cyt"},{"t":77.05,"v":0.055,"s":"Ca_cyt"},{"t":77.25,"v":0.018,"s":"Ca_cyt"},{"t":77.56,"v":0.014,"s":"Ca_cyt"},{"t":77.77,"v":0.023,"s":"Ca_cyt"},{"t":77.9,"v":0.015,"s":"Ca_cyt"},{"t":78.07,"v":0.024,"s":"Ca_cyt"},{"t":78.24,"v":0.019,"s":"Ca_cyt"},{"t":78.45,"v":0.045,"s":"Ca_cyt"},{"t":78.53,"v":0.036,"s":"Ca_cyt"},{"t":78.65,"v":0.055,"s":"Ca_cyt"},{"t":78.8,"v":0.06,"s":"Ca_cyt"},{"t":78.87,"v":0.09,"s":"Ca_cyt"},{"t":78.96,"v":0.145,"s":"Ca_cyt"},{"t":79.04,"v":0.212,"s":"Ca_cyt"},{"t":79.12,"v":0.212,"s":"Ca_cyt"},{"t":79.25,"v":0.121,"s":"Ca_cyt"},{"t":79.42,"v":0.09,"s":"Ca_cyt"},{"t":79.68,"v":0.055,"s":"Ca_cyt"},{"t":79.93,"v":0.027,"s":"Ca_cyt"},{"t":80.1,"v":0.012,"s":"Ca_cyt"},{"t":80.27,"v":0.021,"s":"Ca_cyt"},{"t":80.53,"v":0.023,"s":"Ca_cyt"},{"t":80.65,"v":0.03,"s":"Ca_cyt"},{"t":80.87,"v":0.025,"s":"Ca_cyt"},{"t":81.03,"v":0.051,"s":"Ca_cyt"},{"t":81.16,"v":0.115,"s":"Ca_cyt"},{"t":81.29,"v":0.127,"s":"Ca_cyt"},{"t":81.4,"v":0.12,"s":"Ca_cyt"},{"t":81.54,"v":0.079,"s":"Ca_cyt"},{"t":81.7,"v":0.051,"s":"Ca_cyt"},{"t":81.84,"v":0.045,"s":"Ca_cyt"},{"t":82,"v":0.03,"s":"Ca_cyt"},{"t":82.2,"v":0.02,"s":"Ca_cyt"},{"t":82.3,"v":0.039,"s":"Ca_cyt"},{"t":82.45,"v":0.033,"s":"Ca_cyt"},{"t":82.6,"v":0.085,"s":"Ca_cyt"},{"t":82.77,"v":0.17,"s":"Ca_cyt"},{"t":82.82,"v":0.191,"s":"Ca_cyt"},{"t":82.95,"v":0.17,"s":"Ca_cyt"},{"t":83.16,"v":0.121,"s":"Ca_cyt"},{"t":83.28,"v":0.067,"s":"Ca_cyt"},{"t":83.5,"v":0.051,"s":"Ca_cyt"},{"t":83.6,"v":0.048,"s":"Ca_cyt"},{"t":83.8,"v":0.021,"s":"Ca_cyt"},{"t":84,"v":0.027,"s":"Ca_cyt"},{"t":84.2,"v":0.022,"s":"Ca_cyt"},{"t":84.43,"v":0.042,"s":"Ca_cyt"},{"t":84.6,"v":0.055,"s":"Ca_cyt"},{"t":84.77,"v":0.121,"s":"Ca_cyt"},{"t":84.9,"v":0.191,"s":"Ca_cyt"},{"t":85.02,"v":0.124,"s":"Ca_cyt"},{"t":85.15,"v":0.11,"s":"Ca_cyt"},{"t":85.23,"v":0.085,"s":"Ca_cyt"},{"t":85.4,"v":0.06,"s":"Ca_cyt"},{"t":85.45,"v":0.036,"s":"Ca_cyt"},{"t":85.55,"v":0.035,"s":"Ca_cyt"},{"t":85.7,"v":0.055,"s":"Ca_cyt"},{"t":85.95,"v":0.042,"s":"Ca_cyt"},{"t":86.2,"v":0.04,"s":"Ca_cyt"},{"t":86.38,"v":0.023,"s":"Ca_cyt"},{"t":86.6,"v":0.022,"s":"Ca_cyt"},{"t":86.8,"v":0.03,"s":"Ca_cyt"},{"t":87,"v":0.04,"s":"Ca_cyt"},{"t":87.1,"v":0.035,"s":"Ca_cyt"},{"t":87.23,"v":0.055,"s":"Ca_cyt"},{"t":87.4,"v":0.067,"s":"Ca_cyt"},{"t":87.48,"v":0.121,"s":"Ca_cyt"},{"t":87.6,"v":0.182,"s":"Ca_cyt"},{"t":87.69,"v":0.26,"s":"Ca_cyt"},{"t":87.8,"v":0.2,"s":"Ca_cyt"},{"t":87.95,"v":0.173,"s":"Ca_cyt"},{"t":88.05,"v":0.164,"s":"Ca_cyt"},{"t":88.12,"v":0.109,"s":"Ca_cyt"},{"t":88.3,"v":0.091,"s":"Ca_cyt"},{"t":88.37,"v":0.073,"s":"Ca_cyt"},{"t":88.54,"v":0.079,"s":"Ca_cyt"},{"t":88.62,"v":0.055,"s":"Ca_cyt"},{"t":88.76,"v":0.06,"s":"Ca_cyt"},{"t":88.84,"v":0.045,"s":"Ca_cyt"},{"t":89,"v":0.036,"s":"Ca_cyt"},{"t":89.22,"v":0.055,"s":"Ca_cyt"},{"t":89.4,"v":0.045,"s":"Ca_cyt"},{"t":89.58,"v":0.031,"s":"Ca_cyt"},{"t":89.77,"v":0.04,"s":"Ca_cyt"},{"t":89.94,"v":0.06,"s":"Ca_cyt"},{"t":90,"v":0.12,"s":"Ca_cyt"}]
},
"vconcat":[
{
"width":795,"height":353,
"resolve":{"axis":{"y":"independent"}},
"layer":[
{"layer":[
{"data":{"name":"mptp"},"mark":{"type":"line","strokeWidth":2.5,"strokeCap":"round"},
"encoding":{
"x":{"field":"t","type":"quantitative","scale":{"domain":[0,200],"nice":false},"axis":{"values":[0,20,40,60,80,100,120,140,160,180,200],"grid":true,"offset":-35,"labelPadding":15,"labelOverlap":false,"title":"Time, s","titleFontSize":23,"titlePadding":25}},
"y":{"field":"v","type":"quantitative","scale":{"domain":[-0.1,0.9],"nice":false},"axis":{"values":[-0.1,0,0.1,0.2,0.3,0.4,0.5,0.6,0.7,0.8,0.9],"tickCount":11,"grid":true,"labelPadding":15,"labelOverlap":false,"labelSeparation":0,"labelExpr":"datum.value == 0 ? '0' : (datum.value < 0 ? '-' : '') + replace(format(abs(datum.value), '.1f'), '.', ',')","title":"Calcium concentration (μM )","titleFontSize":15,"titlePadding":13}},
"color":{"field":"s","type":"nominal","scale":{"domain":["mPTP opening","Ca_mit","Ca_cyt"],"range":["#000000","#000000","#808080"]},"legend":{"orient":"none","legendX":32,"legendY":-1,"direction":"horizontal","title":null,"symbolType":"stroke","symbolSize":2400,"symbolStrokeWidth":2.5,"labelFontSize":15,"labelColor":"#595959","labelOffset":8,"columnPadding":6}},
"strokeDash":{"field":"s","type":"nominal","scale":{"domain":["mPTP opening","Ca_mit","Ca_cyt"],"range":[[2,3.5],[1,0],[1,0]]},"legend":{"orient":"none","legendX":32,"legendY":-1,"direction":"horizontal","title":null,"symbolType":"stroke","symbolSize":2400,"symbolStrokeWidth":2.5,"labelFontSize":15,"labelColor":"#595959","labelOffset":8,"columnPadding":6}}
}},
{"data":{"name":"mit"},"mark":{"type":"line","strokeWidth":3.2},
"encoding":{
"x":{"field":"t","type":"quantitative","scale":{"domain":[0,200],"nice":false}},
"y":{"field":"v","type":"quantitative","scale":{"domain":[-0.1,0.9],"nice":false}},
"color":{"field":"s","type":"nominal"},
"strokeDash":{"field":"s","type":"nominal"}
}},
{"data":{"name":"cyt"},"mark":{"type":"line","strokeWidth":2.5},
"encoding":{
"x":{"field":"t","type":"quantitative","scale":{"domain":[0,200],"nice":false}},
"y":{"field":"v","type":"quantitative","scale":{"domain":[-0.1,0.9],"nice":false}},
"color":{"field":"s","type":"nominal"},
"strokeDash":{"field":"s","type":"nominal"}
}},
{"data":{"values":[{}]},"mark":{"type":"rule","color":"#22a84a","strokeWidth":1.5},
"encoding":{
"x":{"datum":70.7,"type":"quantitative","scale":{"domain":[0,200],"nice":false}},
"y":{"datum":-0.011,"type":"quantitative","scale":{"domain":[-0.1,0.9],"nice":false}},
"x2":{"datum":3.6},"y2":{"datum":-0.279}
}},
{"data":{"values":[{}]},"mark":{"type":"rule","color":"#22a84a","strokeWidth":1.5},
"encoding":{
"x":{"datum":91.0,"type":"quantitative","scale":{"domain":[0,200],"nice":false}},
"y":{"datum":-0.011,"type":"quantitative","scale":{"domain":[-0.1,0.9],"nice":false}},
"x2":{"datum":195.6},"y2":{"datum":-0.295}
}},
{"data":{"values":[{}]},"mark":{"type":"point","shape":"triangle-up","filled":true,"color":"#22a84a","size":50,"angle":250.5,"opacity":1},
"encoding":{
"x":{"datum":3.6,"type":"quantitative","scale":{"domain":[0,200],"nice":false}},
"y":{"datum":-0.279,"type":"quantitative","scale":{"domain":[-0.1,0.9],"nice":false}}
}},
{"data":{"values":[{}]},"mark":{"type":"point","shape":"triangle-up","filled":true,"color":"#22a84a","size":50,"angle":103.6,"opacity":1},
"encoding":{
"x":{"datum":195.6,"type":"quantitative","scale":{"domain":[0,200],"nice":false}},
"y":{"datum":-0.295,"type":"quantitative","scale":{"domain":[-0.1,0.9],"nice":false}}
}},
{"data":{"values":[{}]},"mark":{"type":"text","text":"A","fontSize":25,"color":"#000000","font":"Open Sans"},
"encoding":{
"x":{"datum":149.7,"type":"quantitative","scale":{"domain":[0,200],"nice":false}},
"y":{"datum":0.816,"type":"quantitative","scale":{"domain":[-0.1,0.9],"nice":false}}
}}
]},
{"data":{"values":[{}]},"mark":{"type":"text","text":""},
"encoding":{
"y":{"datum":0.4,"type":"quantitative","scale":{"domain":[-0.1,0.9],"nice":false},"axis":{"orient":"right","title":"mPTP opening (a.u.)","labels":false,"grid":false,"ticks":false,"domain":false,"titleAngle":270,"titleBaseline":"top","titlePadding":12,"titleFontSize":15}}
}}
]
},
{
"width":788,"height":330,
"layer":[
{"data":{"name":"bmit"},"mark":{"type":"line","strokeWidth":3},
"encoding":{
"x":{"field":"t","type":"quantitative","scale":{"domain":[70,90],"nice":false},"axis":{"values":[70,72,74,76,78,80,82,84,86,88,90],"grid":true,"offset":-55,"labelPadding":15,"labelOverlap":false,"title":"Time, s","titleFontSize":23,"titlePadding":43}},
"y":{"field":"v","type":"quantitative","scale":{"domain":[-0.1,0.5],"nice":false},"axis":{"values":[-0.1,0,0.1,0.2,0.3,0.4,0.5],"grid":true,"labelPadding":15,"labelOverlap":false,"labelExpr":"datum.value == 0 ? '0' : (datum.value < 0 ? '-' : '') + replace(format(abs(datum.value), '.1f'), '.', ',')","title":"Concentration, μM","titleFontSize":16,"titlePadding":13}},
"color":{"field":"s","type":"nominal","scale":{"domain":["Ca_mit","Ca_cyt"],"range":["#000000","#f01c1c"]},"legend":{"orient":"none","legendX":124,"legendY":69,"direction":"horizontal","title":null,"symbolType":"stroke","symbolSize":1300,"symbolStrokeWidth":3,"labelFontSize":14,"labelColor":"#595959","labelOffset":7,"columnPadding":13}}
}},
{"data":{"name":"bcyt"},"mark":{"type":"line","strokeWidth":2.5},
"encoding":{
"x":{"field":"t","type":"quantitative","scale":{"domain":[70,90],"nice":false}},
"y":{"field":"v","type":"quantitative","scale":{"domain":[-0.1,0.5],"nice":false}},
"color":{"field":"s","type":"nominal"}
}},
{"data":{"values":[{}]},"mark":{"type":"text","text":"B","fontSize":28,"color":"#000000","font":"Open Sans"},
"encoding":{
"x":{"datum":70.9,"type":"quantitative","scale":{"domain":[70,90],"nice":false}},
"y":{"datum":0.464,"type":"quantitative","scale":{"domain":[-0.1,0.5],"nice":false}}
}}
]
}
],
"resolve":{"scale":{"color":"independent","strokeDash":"independent","x":"independent","y":"independent"},"legend":{"color":"independent","strokeDash":"independent"}},
"config":{
"view":{"stroke":null},
"font":"Open Sans",
"axis":{"domain":false,"ticks":false,"gridColor":"#d9d9d9","gridWidth":1.3,"labelFont":"Open Sans","labelFontSize":16,"labelColor":"#595959","labelFlush":false,"labelOverlap":false,"labelBound":false,"titleFont":"Open Sans","titleFontWeight":"normal","titleColor":"#000000"},
"legend":{"labelFont":"Open Sans","padding":0}
}
}
